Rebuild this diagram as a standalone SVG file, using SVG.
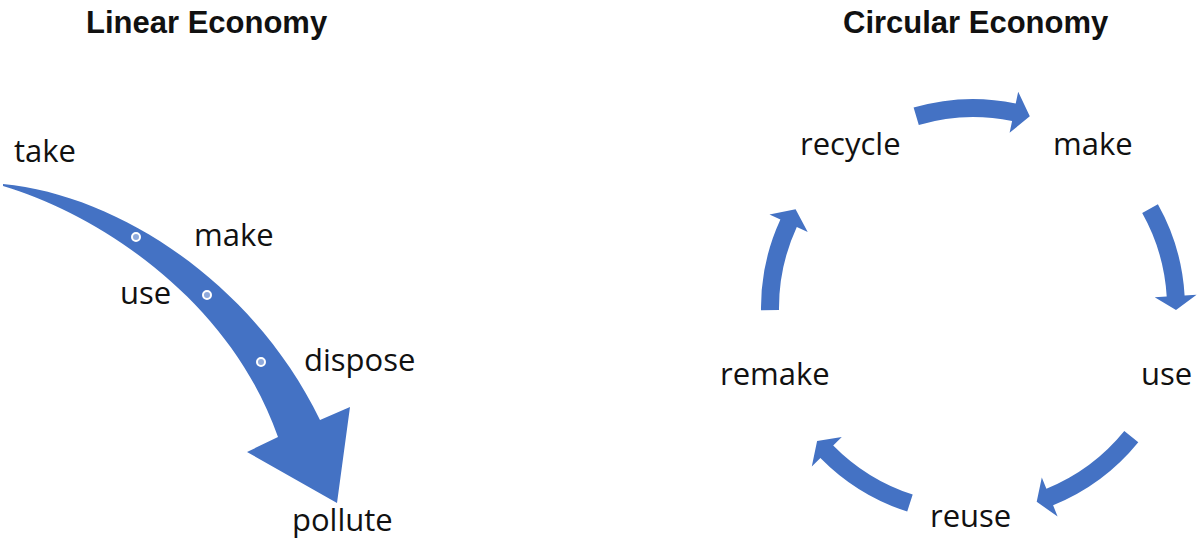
<svg xmlns="http://www.w3.org/2000/svg" width="1204" height="544" viewBox="0 0 1204 544">
  <style>
    .title { font-family: "Liberation Sans", Arial, sans-serif; font-weight: bold; font-size: 31px; fill: #111; }
    .lbl { font-family: "Open Sans", "Noto Sans", sans-serif; font-size: 31px; fill: #111; }
    .arrow { fill: #4472C4; }
    .dot { fill: #8FAADC; stroke: #FFFFFF; stroke-width: 2; }
  </style>
  <rect width="1204" height="544" fill="#FFFFFF"/>

  <g id="titles">
    <text class="title" x="86" y="33">Linear Economy</text>
    <text class="title" x="843" y="33">Circular Economy</text>
  </g>

  <!-- Linear economy -->
  <g id="linear-arrow">
    <path class="arrow" d="M3,184 C120,195 255,285 320,420 L350,407 L337,503 L247,452 L278,437 C230,300 100,215 3,186 Z"/>
    <circle class="dot" cx="136" cy="237" r="4"/>
    <circle class="dot" cx="207" cy="295" r="4"/>
    <circle class="dot" cx="261" cy="362" r="4"/>
  </g>
  <g id="node-take"><text class="lbl" x="14" y="162">take</text></g>
  <g id="node-make-linear"><text class="lbl" x="194" y="246">make</text></g>
  <g id="node-use-linear"><text class="lbl" x="120" y="304">use</text></g>
  <g id="node-dispose"><text class="lbl" x="304" y="371">dispose</text></g>
  <g id="node-pollute"><text class="lbl" x="292" y="531">pollute</text></g>

  <!-- Circular economy -->
  <g id="node-recycle"><text class="lbl" x="800" y="155">recycle</text></g>
  <g id="node-make-circular"><text class="lbl" x="1053" y="155">make</text></g>
  <g id="node-use-circular"><text class="lbl" x="1141" y="385">use</text></g>
  <g id="node-reuse"><text class="lbl" x="930" y="527">reuse</text></g>
  <g id="node-remake"><text class="lbl" x="720" y="385">remake</text></g>

  <g id="connectors">
    <path class="arrow" d="M913.6,107.6 A209,209 0 0 1 1015.7,103.4 L1018.2,91.7 L1029.8,116.2 L1009.6,132.8 L1012.1,121.0 A191,191 0 0 0 918.8,124.9 Z"/>
    <path class="arrow" d="M1157.9,204.2 A212,212 0 0 1 1184.6,295.4 L1196.6,294.7 L1176.0,310.1 L1154.7,297.2 L1166.7,296.5 A194,194 0 0 0 1142.2,213.1 Z"/>
    <path class="arrow" d="M1138.3,442.3 A213,213 0 0 1 1053.1,505.3 L1057.6,516.5 L1036.7,501.8 L1041.8,477.5 L1046.4,488.7 A195,195 0 0 0 1124.3,431.0 Z"/>
    <path class="arrow" d="M907.2,511.6 A214,214 0 0 1 820.4,458.0 L811.8,466.4 L817.1,441.1 L841.8,437.0 L833.2,445.4 A196,196 0 0 0 912.7,494.5 Z"/>
    <path class="arrow" d="M761,310.2 A212,212 0 0 1 780.4,219.4 L769.5,214.4 L795.6,209.3 L807.7,231.9 L796.8,226.9 A194,194 0 0 0 779,310.0 Z"/>
  </g>
</svg>
